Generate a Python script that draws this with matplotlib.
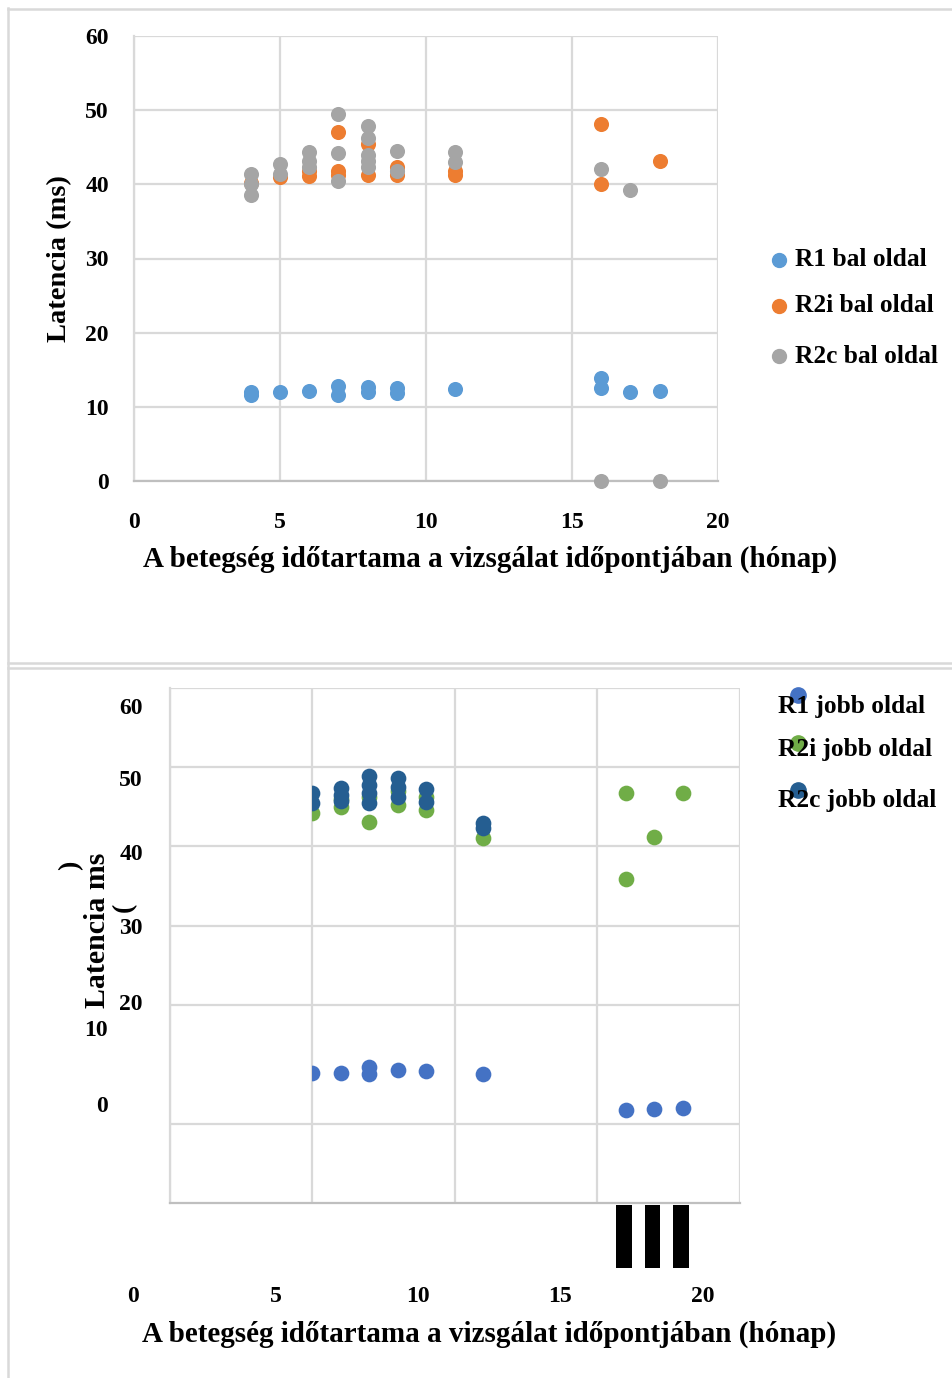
import matplotlib
matplotlib.use("Agg")
import matplotlib.pyplot as plt
from matplotlib.patches import Rectangle
from matplotlib.lines import Line2D
from matplotlib import transforms

# ---- data: left side (bal oldal) ----
r1_bal_x = [4, 4, 5, 6, 7, 7, 8, 8, 9, 9, 11, 16, 16, 17, 18]
r1_bal_y = [11.6, 12.0, 12.0, 12.2, 12.8, 11.6, 12.7, 12.0, 12.5, 11.9, 12.4, 13.9, 12.5, 12.0, 12.1]

r2i_bal_x = [4, 5, 6, 6, 7, 7, 7, 8, 8, 9, 9, 11, 11, 16, 16, 18]
r2i_bal_y = [40.2, 41.0, 41.1, 41.8, 47.0, 41.8, 41.3, 45.4, 41.3, 42.3, 41.3, 41.8, 41.3, 48.2, 40.1, 43.1]

r2c_bal_x = [4, 4, 4, 5, 5, 6, 6, 6, 7, 7, 7, 8, 8, 8, 8, 8, 9, 9, 11, 11, 16, 16, 17, 18]
r2c_bal_y = [41.4, 40.0, 38.6, 42.7, 41.4, 44.3, 43.1, 42.3, 49.5, 44.2, 40.4, 47.8, 46.3,
             44.0, 43.1, 42.4, 44.5, 41.8, 44.4, 43.0, 42.1, 0.0, 39.2, 0.0]

# ---- data: right side (jobb oldal) ----
r1_jobb_x = [5, 6, 7, 7, 8, 9, 11, 16, 17, 18]
r1_jobb_y = [11.4, 11.4, 12.2, 11.3, 11.8, 11.7, 11.3, 6.7, 6.9, 7.0]

r2i_jobb_x = [5, 6, 6, 7, 7, 8, 8, 9, 9, 11, 16, 16, 17, 18]
r2i_jobb_y = [44.2, 45.0, 46.0, 46.2, 43.1, 45.2, 47.0, 44.6, 46.3, 41.1, 46.8, 35.9, 41.2, 46.8]

r2c_jobb_x = [5, 5, 6, 6, 6, 7, 7, 7, 7, 8, 8, 8, 9, 9, 11, 11]
r2c_jobb_y = [46.8, 45.5, 47.4, 46.5, 45.8, 48.9, 47.8, 46.8, 45.5, 48.7, 47.5, 46.3, 47.3, 45.6, 43.0, 42.3]
r2c_jobb_zero_x = [16, 17, 18]

x_tick_labels = ["0", "5", "10", "15", "20"]
y_tick_labels = ["0", "10", "20", "30", "40", "50", "60"]

legend_bal = ["R1 bal oldal", "R2i bal oldal", "R2c bal oldal"]
legend_jobb = ["R1 jobb oldal", "R2i jobb oldal", "R2c jobb oldal"]
xlabel = "A betegség időtartama a vizsgálat időpontjában (hónap)"

col_bal = ["#5B9BD5", "#ED7D31", "#A5A5A5"]
col_jobb = ["#4472C4", "#70AD47", "#255E91"]

W, H = 953, 1378
DPI = 100
FONT = "Liberation Serif"
FS = 17          # tick labels
FS_LEG = 18.3    # legend entries
FS_LAB = 21      # axis titles
GRID = "#D9D9D9"

plt.rcParams["font.family"] = [FONT, "DejaVu Serif"]
plt.rcParams["font.weight"] = "bold"

fig = plt.figure(figsize=(W / DPI, H / DPI), dpi=DPI)


def px_axes(x0, y0, x1, y1):
    return fig.add_axes([x0 / W, 1 - y1 / H, (x1 - x0) / W, (y1 - y0) / H])


def ftext(x, y, s, **kw):
    kw.setdefault("fontsize", FS)
    kw.setdefault("fontweight", "bold")
    kw.setdefault("ha", "center")
    kw.setdefault("va", "center")
    return fig.text(x / W, 1 - y / H, s, **kw)


# panel frame lines
for seg in [((8, 8), (8, H)), ((8, W), (9, 9)), ((8, W), (663, 663)), ((8, W), (668, 668))]:
    fig.add_artist(Line2D([seg[0][0] / W, seg[0][1] / W],
                          [1 - seg[1][0] / H, 1 - seg[1][1] / H],
                          transform=fig.transFigure, color=GRID, lw=1.8))

MS = 118

# ---------------- top panel ----------------
ax1 = px_axes(134, 36, 718, 481)
ax1.set_xlim(0, 20)
ax1.set_ylim(0, 60)
ax1.set_xticks([0, 5, 10, 15, 20])
ax1.set_xticklabels(x_tick_labels)
ax1.set_yticks([0, 10, 20, 30, 40, 50, 60])
ax1.set_yticklabels(y_tick_labels)
ax1.grid(True, color=GRID, lw=1.6)
ax1.set_axisbelow(True)
for s in ["top", "right"]:
    ax1.spines[s].set_visible(False)
ax1.spines["left"].set_color(GRID)
ax1.spines["left"].set_linewidth(1.6)
ax1.spines["bottom"].set_color("#BFBFBF")
ax1.spines["bottom"].set_linewidth(1.6)
ax1.tick_params(length=0, labelsize=FS)
ax1.tick_params(axis="y", pad=18)
ax1.tick_params(axis="x", pad=22)
for lab in ax1.get_xticklabels() + ax1.get_yticklabels():
    lab.set_fontweight("bold")

for xs, ys, c in [(r1_bal_x, r1_bal_y, col_bal[0]),
                  (r2i_bal_x, r2i_bal_y, col_bal[1]),
                  (r2c_bal_x, r2c_bal_y, col_bal[2])]:
    ax1.scatter(xs, ys, s=MS, color=c, linewidths=0, clip_on=False, zorder=3)

ftext(60, 259, "Latencia (ms)", rotation=90, fontsize=FS_LAB - 0.5)
ftext(490, 559, xlabel, fontsize=FS_LAB)

for i, (lab, c) in enumerate(zip(legend_bal, col_bal)):
    yy = [260, 306, 356][i]
    fig.add_artist(Line2D([779 / W], [1 - yy / H], marker="o", markersize=10,
                          color=c, linestyle="none", transform=fig.transFigure))
    ftext(795, yy, lab, ha="left", fontsize=FS_LEG)

# ---------------- bottom panel ----------------
ax2 = px_axes(170, 688, 740, 1203)
ax2.set_xlim(0, 20)
ax2.set_ylim(-5, 60)
ax2.set_xticks([0, 5, 10, 15, 20])
ax2.set_yticks([5, 20, 30, 40, 50, 60])
ax2.set_xticklabels([])
ax2.set_yticklabels([])
ax2.grid(True, color=GRID, lw=1.6)
ax2.set_axisbelow(True)
for s in ["top", "right"]:
    ax2.spines[s].set_visible(False)
ax2.spines["left"].set_color(GRID)
ax2.spines["left"].set_linewidth(1.6)
ax2.spines["bottom"].set_color("#BFBFBF")
ax2.spines["bottom"].set_linewidth(1.6)
ax2.tick_params(length=0)

clip = Rectangle((5, -5), 15, 65, transform=ax2.transData)
for xs, ys, c in [(r1_jobb_x, r1_jobb_y, col_jobb[0]),
                  (r2i_jobb_x, r2i_jobb_y, col_jobb[1]),
                  (r2c_jobb_x, r2c_jobb_y, col_jobb[2])]:
    sc = ax2.scatter(xs, ys, s=MS + 10, color=c, linewidths=0, zorder=3)
    sc.set_clip_path(clip)

bar_shift = transforms.offset_copy(ax2.transData, fig=fig, x=-2, y=0, units="dots")
ax2.bar(r2c_jobb_zero_x, [-7.9] * len(r2c_jobb_zero_x), bottom=-5.25,
        width=0.56, color="black", clip_on=False, zorder=3, transform=bar_shift)

# tick labels
xoff = transforms.offset_copy(ax2.transData, fig=fig, x=-37, y=0, units="dots")
xlab_trans = transforms.blended_transform_factory(xoff, fig.transFigure)
for v, lab in zip([0, 5, 10, 15, 20], x_tick_labels):
    ax2.text(v, 1 - 1296 / H, lab, transform=xlab_trans, ha="center", va="center",
             fontsize=FS, fontweight="bold")

ylab_pos = [(102, 1106), (96, 1031), (131, 1005), (131, 929), (131, 854), (131, 780), (131, 708)]
for (px, py), lab in zip(ylab_pos, y_tick_labels):
    ftext(px, py, lab)

ftext(98, 930, "Latencia ms", rotation=90, fontsize=FS_LAB + 0.5)
ftext(71, 865, ")", rotation=90, fontsize=FS_LAB - 1)
ftext(124, 907, "(", rotation=90, fontsize=FS_LAB - 1)
ftext(489, 1334, xlabel, fontsize=FS_LAB)

for i, (lab, c) in enumerate(zip(legend_jobb, col_jobb)):
    ty = [706, 750, 800][i]
    my = [695, 743, 790][i]
    ftext(778, ty, lab, ha="left", fontsize=FS_LEG)
    fig.add_artist(Line2D([798 / W], [1 - my / H], marker="o", markersize=11,
                          color=c, linestyle="none", transform=fig.transFigure))

fig.savefig("out.png", dpi=DPI)
